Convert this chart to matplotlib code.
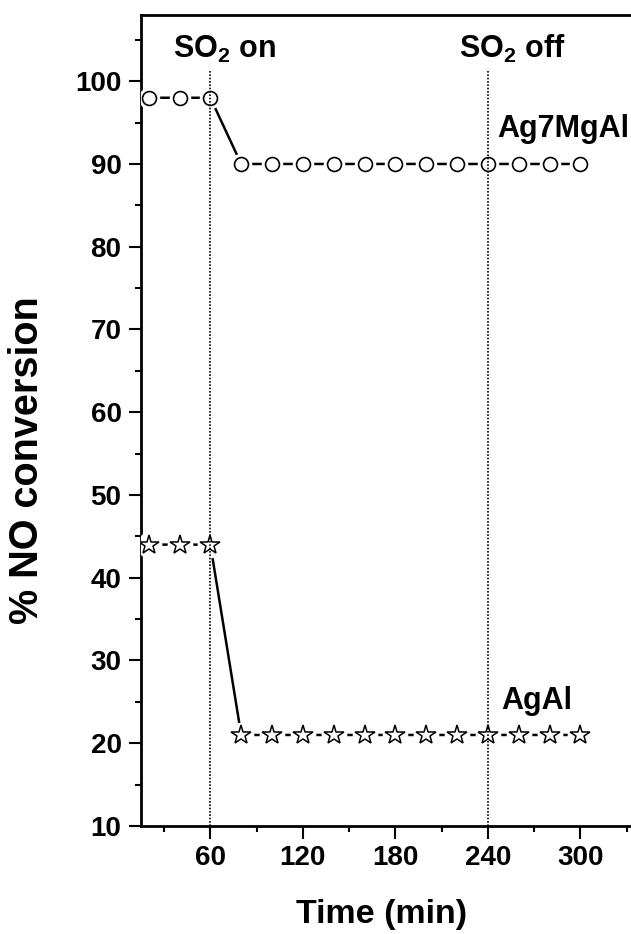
import matplotlib
matplotlib.use("Agg")
import matplotlib.pyplot as plt
from matplotlib.ticker import MultipleLocator

plt.rcParams['font.family'] = ['Liberation Sans', 'DejaVu Sans']
plt.rcParams['font.weight'] = 'bold'
plt.rcParams['mathtext.fontset'] = 'custom'
plt.rcParams['mathtext.rm'] = 'Liberation Sans:bold'
plt.rcParams['mathtext.bf'] = 'Liberation Sans:bold'
plt.rcParams['mathtext.default'] = 'rm'

# Data
time_min = [20, 40, 60, 80, 100, 120, 140, 160, 180, 200, 220, 240, 260, 280, 300]
ag7mgal = [98, 98, 98, 90, 90, 90, 90, 90, 90, 90, 90, 90, 90, 90, 90]
agal = [44, 44, 44, 21, 21, 21, 21, 21, 21, 21, 21, 21, 21, 21, 21]
so2_events = [60, 240]
so2_labels = ['SO$_2$ on', 'SO$_2$ off']
x_ticks = [60, 120, 180, 240, 300]
y_ticks = [10, 20, 30, 40, 50, 60, 70, 80, 90, 100]

W, H = 631, 934
fig = plt.figure(figsize=(W / 100, H / 100), dpi=100)
left_px, right_px, top_px, bottom_px = 141, 642, 15, 826
ax = fig.add_axes([left_px / W, 1 - bottom_px / H,
                   (right_px - left_px) / W, (bottom_px - top_px) / H])

ax.set_xlim(15, 340)
ax.set_ylim(10, 108)

# Lines with gaps around markers (white underlay)
ax.plot(time_min, ag7mgal, color='black', lw=1.8, zorder=2)
ax.plot(time_min, ag7mgal, ls='none', marker='o', ms=15.5, mfc='white', mec='none', zorder=3)
ax.plot(time_min, ag7mgal, ls='none', marker='o', ms=10, mfc='white', mec='black', mew=1.2, zorder=4)

ax.plot(time_min, agal, color='black', lw=1.8, zorder=2)
ax.plot(time_min, agal, ls='none', marker='o', ms=18.5, mfc='white', mec='none', zorder=3)
ax.plot(time_min, agal, ls='none', marker='*', ms=15, mfc='white', mec='black', mew=1.1, zorder=4)

# SO2 on/off dotted lines
ax.vlines(so2_events, 10, 101.3, colors='black', linestyles=(0, (1, 1)), lw=1.2, zorder=5)

ax.text(36, 102.8, so2_labels[0], fontsize=22, fontweight='bold', va='baseline', ha='left')
ax.text(221.5, 102.8, so2_labels[1], fontsize=22, fontweight='bold', va='baseline', ha='left')
ax.text(246, 93.3, 'Ag7MgAl', fontsize=22, fontweight='bold', va='baseline', ha='left')
ax.text(249, 24.1, 'AgAl', fontsize=22, fontweight='bold', va='baseline', ha='left')

# Axes styling
for s in ['left', 'bottom', 'top', 'right']:
    ax.spines[s].set_linewidth(2.0)
ax.spines['right'].set_visible(False)

ax.set_xticks(x_ticks)
ax.set_yticks(y_ticks)
ax.xaxis.set_minor_locator(MultipleLocator(30))
ax.yaxis.set_minor_locator(MultipleLocator(5))
ax.tick_params(which='both', direction='out', top=False, right=False, width=1.5)
ax.tick_params(which='major', length=9, labelsize=20, pad=5)
ax.tick_params(which='minor', length=4.5)
for lab in ax.get_xticklabels() + ax.get_yticklabels():
    lab.set_fontweight('bold')

ax.set_xlabel('Time (min)', fontsize=24.5, fontweight='bold')
ax.set_ylabel('% NO conversion', fontsize=28.5, fontweight='bold')
ax.xaxis.set_label_coords((382 - left_px) / (right_px - left_px), -(915 - bottom_px) / (bottom_px - top_px))
ax.xaxis.label.set_va('center')
ax.yaxis.set_label_coords(-(141 - 27) / (right_px - left_px), (bottom_px - 460) / (bottom_px - top_px))
ax.yaxis.label.set_va('center')

fig.savefig('out.png', dpi=100)
